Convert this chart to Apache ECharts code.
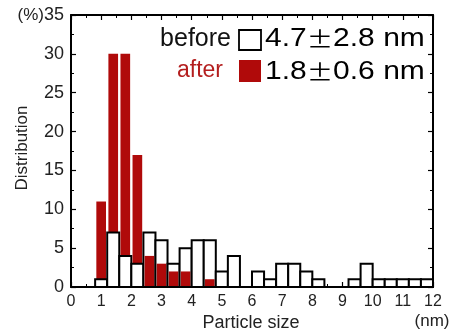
<!DOCTYPE html>
<html><head><meta charset="utf-8">
<script src="https://cdn.jsdelivr.net/npm/echarts@6/dist/echarts.min.js"></script>
<style>html,body{margin:0;padding:0;background:#fff}#c{width:452px;height:334px}</style>
</head><body><div id="c"></div>
<script>
// Histogram bins (nm): start of each 0.4 nm bin
const binStarts = [0.8,1.2,1.6,2.0,2.4,2.8,3.2,3.6,4.0,4.4,4.8,5.2,5.6,6.0,6.4,6.8,7.2,7.6,8.0,8.4,8.8,9.2,9.6,10.0,10.4,10.8,11.2,11.6];
const binWidth = 0.4;
// Distribution (%)
const beforeVals = [1,7,4,3,7,6,3,5,6,6,2,4,0,2,1,3,3,2,1,0,0,1,3,1,1,1,1,1];
const afterVals  = [11,30,30,17,4,3,2,2,0,1,0,0,0,0,0,0,0,0,0,0,0,0,0,0,0,0,0,0];
const legendLabels = ['before','after'];
const legendStats = [['4.7','2.8 nm'],['1.8','0.6 nm']];
const xMin = 0, xMax = 12, xStep = 1;
const yMin = 0, yMax = 35, yStep = 5;

const RED = '#b00a0a';
const FONT = '"Liberation Sans", Arial, Helvetica, sans-serif';

const data = binStarts.map((s,i)=>[s, beforeVals[i], afterVals[i]]);

const chart = echarts.init(document.getElementById('c'), null, {renderer:'canvas'});

function renderItem(params, api){
  const x0 = api.value(0), b = api.value(1), a = api.value(2);
  const p0 = api.coord([x0, 0]);
  const p1 = api.coord([x0 + binWidth, 0]);
  const w = p1[0] - p0[0];
  const children = [];
  let beforeRect = null, afterRect = null;
  if (b > 0) {
    const pb = api.coord([x0, b]);
    beforeRect = {type:'rect', shape:{x:p0[0], y:pb[1], width:w, height:p0[1]-pb[1]},
      style:{fill:'#fff', stroke:'#000', lineWidth:2}};
  }
  if (a > 0) {
    const pa = api.coord([x0, a]);
    afterRect = {type:'rect', shape:{x:p0[0]+1.2, y:pa[1], width:w-2.4, height:p0[1]-pa[1]-1},
      style:{fill:RED}};
  }
  if (a > b) { if (afterRect) children.push(afterRect); if (beforeRect) children.push(beforeRect); }
  else { if (beforeRect) children.push(beforeRect); if (afterRect) children.push(afterRect); }
  return {type:'group', children};
}

const axisLineStyle = {color:'#000', width:2};
const statRich = {
  n:{fontSize:25, fontFamily:FONT, color:'#111'},
  p:{fontSize:22, fontFamily:'"Noto Sans CJK JP"', color:'#111'}
};
const option = {
  backgroundColor:'#fff',
  animation:false,
  grid:{left:71, right:19, top:15, bottom:47, containLabel:false},
  xAxis:[{
    type:'value', min:xMin, max:xMax, interval:xStep, position:'bottom',
    axisLine:{show:true, onZero:false, lineStyle:axisLineStyle},
    axisTick:{show:true, inside:true, length:5, lineStyle:{color:'#000', width:1.2}},
    minorTick:{show:true, splitNumber:2, length:3, lineStyle:{color:'#000', width:1}},
    splitLine:{show:false},
    axisLabel:{color:'#222', fontSize:16, fontFamily:FONT, margin:7}
  },{
    type:'value', min:xMin, max:xMax, interval:xStep, position:'top',
    axisLine:{show:true, onZero:false, lineStyle:axisLineStyle},
    axisTick:{show:true, inside:true, length:5, lineStyle:{color:'#000', width:1.2}},
    minorTick:{show:true, splitNumber:2, length:3, lineStyle:{color:'#000', width:1}},
    splitLine:{show:false}, axisLabel:{show:false}
  }],
  yAxis:[{
    type:'value', min:yMin, max:yMax, interval:yStep, position:'left',
    axisLine:{show:true, onZero:false, lineStyle:axisLineStyle},
    axisTick:{show:true, inside:true, length:5, lineStyle:{color:'#000', width:1.2}},
    minorTick:{show:true, splitNumber:2, length:3, lineStyle:{color:'#000', width:1}},
    splitLine:{show:false},
    axisLabel:{color:'#222', fontSize:18, fontFamily:FONT, margin:7,
      formatter:(v)=> v===yMax ? '{u|(%)}'+v : String(v),
      rich:{u:{fontSize:17, fontFamily:FONT, color:'#222'}}}
  },{
    type:'value', min:yMin, max:yMax, interval:yStep, position:'right',
    axisLine:{show:true, onZero:false, lineStyle:axisLineStyle},
    axisTick:{show:true, inside:true, length:5, lineStyle:{color:'#000', width:1.2}},
    minorTick:{show:true, splitNumber:2, length:3, lineStyle:{color:'#000', width:1}},
    splitLine:{show:false}, axisLabel:{show:false}
  }],
  series:[{
    type:'custom', name:'distribution', xAxisIndex:0, yAxisIndex:0,
    renderItem, data, encode:{x:0, y:[1,2]}, z:2, clip:false
  }],
  graphic:[
    {type:'text', x:251, y:323, style:{text:'Particle size', fontSize:18, fontFamily:FONT, fill:'#222', align:'center', verticalAlign:'middle'}},
    {type:'text', x:432, y:321, style:{text:'(nm)', fontSize:17, fontFamily:FONT, fill:'#222', align:'center', verticalAlign:'middle'}},
    {type:'text', x:22, y:148, rotation:Math.PI/2, style:{text:'Distribution', fontSize:17, fontFamily:FONT, fill:'#222', align:'center', verticalAlign:'middle'}},
    {type:'text', x:231, y:39, style:{text:legendLabels[0], fontSize:25, fontFamily:FONT, fill:'#111', align:'right', verticalAlign:'middle'}},
    {type:'rect', shape:{x:239, y:30, width:22, height:20}, style:{fill:'#fff', stroke:'#000', lineWidth:1.8}},
    {type:'text', x:265, y:39, scaleX:1.2, style:{
      text:'{n|'+legendStats[0][0]+'}{p|±}{n|'+legendStats[0][1]+'}', verticalAlign:'middle', align:'left', rich:statRich}},
    {type:'text', x:223, y:71, style:{text:legendLabels[1], fontSize:23, fontFamily:FONT, fill:'#b41e1e', align:'right', verticalAlign:'middle'}},
    {type:'rect', shape:{x:239, y:60, width:22, height:22}, style:{fill:RED}},
    {type:'text', x:265, y:72, scaleX:1.2, style:{
      text:'{n|'+legendStats[1][0]+'}{p|±}{n|'+legendStats[1][1]+'}', verticalAlign:'middle', align:'left', rich:statRich}}
  ]
};
chart.setOption(option);
</script></body></html>
